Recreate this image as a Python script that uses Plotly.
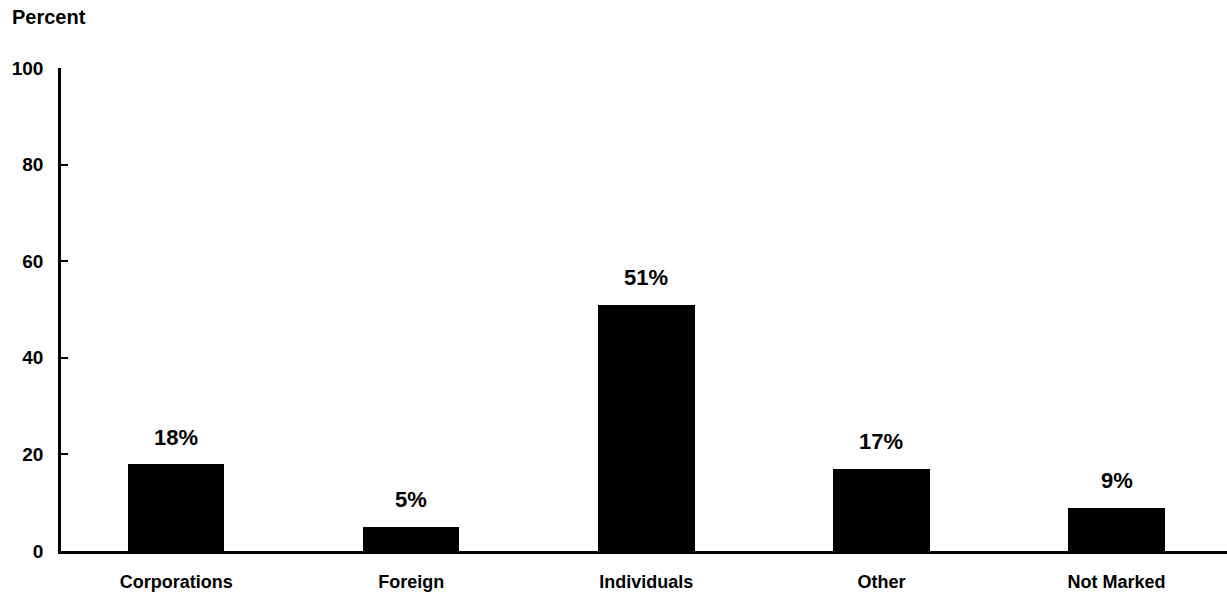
import plotly.graph_objects as go

categories = ["Corporations", "Foreign", "Individuals", "Other", "Not Marked"]
percents = [18, 5, 51, 17, 9]
y_ticks = [0, 20, 40, 60, 80, 100]

FONT = "Liberation Sans, Arial, Helvetica, sans-serif"

fig = go.Figure()
fig.add_trace(go.Bar(
    x=categories,
    y=percents,
    width=0.41,
    marker=dict(color="black", line=dict(width=0)),
    hoverinfo="skip",
))

# value labels above each bar
for cat, val in zip(categories, percents):
    fig.add_annotation(
        x=cat, y=val, text=f"<b>{val}%</b>", showarrow=False,
        yshift=27, font=dict(family=FONT, size=22, color="black"),
    )

fig.add_annotation(
    xref="paper", yref="paper", x=-0.044, y=1.0, yshift=51,
    xanchor="left", yanchor="middle", showarrow=False,
    text="<b>Percent</b>", font=dict(family=FONT, size=20, color="black"),
)

fig.update_layout(
    width=1227, height=592,
    margin=dict(l=61, r=0, t=68, b=41),
    paper_bgcolor="white", plot_bgcolor="white",
    showlegend=False,
    bargap=0,
)
fig.update_xaxes(
    range=[-0.49, 4.47],
    showline=True, linecolor="black", linewidth=2.5,
    showgrid=False, zeroline=False, ticks="",
    ticklabelstandoff=13,
    tickfont=dict(family=FONT, size=18, color="black"),
    tickprefix="<b>", ticksuffix="</b>",
)
fig.update_yaxes(
    range=[0, 100], tickvals=y_ticks,
    ticktext=[f"<b>{v}</b>" for v in y_ticks],
    showline=True, linecolor="black", linewidth=2.5,
    showgrid=False, zeroline=False,
    ticks="inside", ticklen=7, tickwidth=2, tickcolor="black",
    ticklabelstandoff=11,
    tickfont=dict(family=FONT, size=19, color="black"),
)

fig.write_html("out.html")
